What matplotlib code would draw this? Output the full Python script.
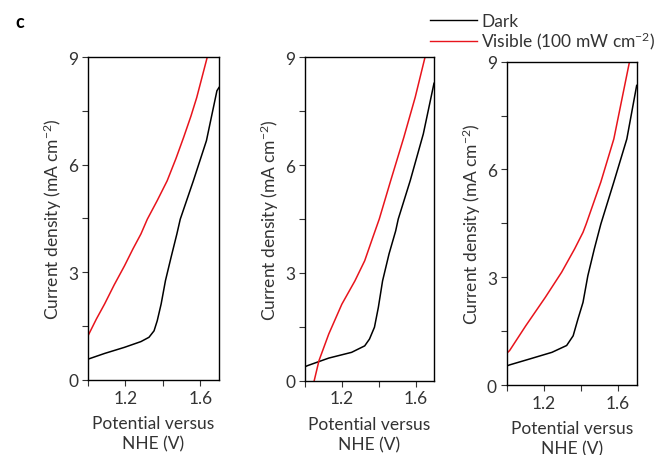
import matplotlib
matplotlib.use("Agg")
import matplotlib.pyplot as plt
from matplotlib.lines import Line2D

plt.rcParams['font.family'] = ['Lato', 'DejaVu Sans']
plt.rcParams['mathtext.default'] = 'regular'

RED = '#e8141c'
TXT = '#333333'

# panel 1
dark1_v = [1.0, 1.089, 1.195, 1.283, 1.326, 1.353, 1.37, 1.391, 1.414, 1.444, 1.475, 1.493, 1.563, 1.633, 1.689, 1.70]
dark1_j = [0.58, 0.74, 0.91, 1.07, 1.19, 1.37, 1.65, 2.12, 2.77, 3.42, 4.07, 4.48, 5.55, 6.67, 8.06, 8.15]
vis1_v = [1.0, 1.045, 1.089, 1.14, 1.195, 1.24, 1.283, 1.317, 1.37, 1.423, 1.47, 1.511, 1.55, 1.581, 1.637]
vis1_j = [1.23, 1.70, 2.12, 2.65, 3.18, 3.65, 4.07, 4.48, 5.00, 5.55, 6.17, 6.76, 7.35, 7.87, 8.99]

# panel 2
dark2_v = [1.0, 1.014, 1.129, 1.253, 1.324, 1.35, 1.377, 1.398, 1.421, 1.456, 1.492, 1.506, 1.571, 1.642, 1.70]
dark2_j = [0.39, 0.42, 0.63, 0.79, 0.97, 1.16, 1.49, 2.04, 2.78, 3.53, 4.17, 4.50, 5.57, 6.87, 8.28]
vis2_v = [1.05, 1.076, 1.129, 1.2, 1.271, 1.324, 1.368, 1.403, 1.465, 1.536, 1.598, 1.651]
vis2_j = [0.0, 0.56, 1.30, 2.13, 2.78, 3.34, 3.99, 4.50, 5.57, 6.77, 7.89, 9.0]

# panel 3
dark3_v = [1.0, 1.016, 1.121, 1.244, 1.323, 1.358, 1.384, 1.411, 1.437, 1.472, 1.507, 1.577, 1.647, 1.70]
dark3_j = [0.53, 0.56, 0.72, 0.91, 1.10, 1.37, 1.84, 2.30, 3.04, 3.79, 4.48, 5.65, 6.85, 8.34]
vis3_v = [1.0, 1.016, 1.103, 1.208, 1.296, 1.366, 1.411, 1.428, 1.507, 1.577, 1.661]
vis3_j = [0.88, 0.96, 1.65, 2.44, 3.14, 3.79, 4.25, 4.48, 5.65, 6.85, 8.99]

panels = [(dark1_v, dark1_j, vis1_v, vis1_j),
          (dark2_v, dark2_j, vis2_v, vis2_j),
          (dark3_v, dark3_j, vis3_v, vis3_j)]

# axes boxes in figure fraction [left, bottom, width, height]
boxes = [[0.1327, 0.1645, 0.1976, 0.7083],
         [0.4600, 0.1629, 0.1946, 0.7090],
         [0.7642, 0.1535, 0.1961, 0.7090]]

fig = plt.figure(figsize=(6.63, 4.56), dpi=100)

for (dv, dj, vv, vj), box in zip(panels, boxes):
    ax = fig.add_axes(box)
    ax.plot(dv, dj, color='black', lw=1.1)
    ax.plot(vv, vj, color=RED, lw=1.1)
    ax.set_xlim(1.0, 1.7)
    ax.set_ylim(0, 9)
    ax.set_xticks([1.2, 1.6])
    ax.set_xticks([1.0, 1.4], minor=True)
    ax.set_yticks([0, 3, 6, 9])
    ax.set_yticks([1.5, 4.5, 7.5], minor=True)
    ax.tick_params(which='both', direction='out', length=4, width=0.8,
                   labelsize=12.5, colors=TXT, pad=3)
    for s in ax.spines.values():
        s.set_linewidth(1.0)
    ax.set_xlabel('Potential versus\nNHE (V)', fontsize=12.5, color=TXT,
                  labelpad=7, linespacing=1.3)
    ax.set_ylabel('Current density (mA cm$^{-2}$)', fontsize=12.5, color=TXT, labelpad=3)

fig.text(15/663, 1 - 22/456, 'c', fontsize=13, fontweight='bold', va='center')

handles = [Line2D([], [], color='black', lw=1.0),
           Line2D([], [], color=RED, lw=1.0)]
fig.legend(handles, ['Dark', 'Visible (100 mW cm$^{-2}$)'],
           loc='upper left', bbox_to_anchor=(430/663, 1 - 14/456),
           frameon=False, fontsize=12.5, handlelength=2.7, handletextpad=0.25,
           labelspacing=0.05, borderpad=0, borderaxespad=0, labelcolor=TXT)

fig.savefig('out.png', dpi=100)
